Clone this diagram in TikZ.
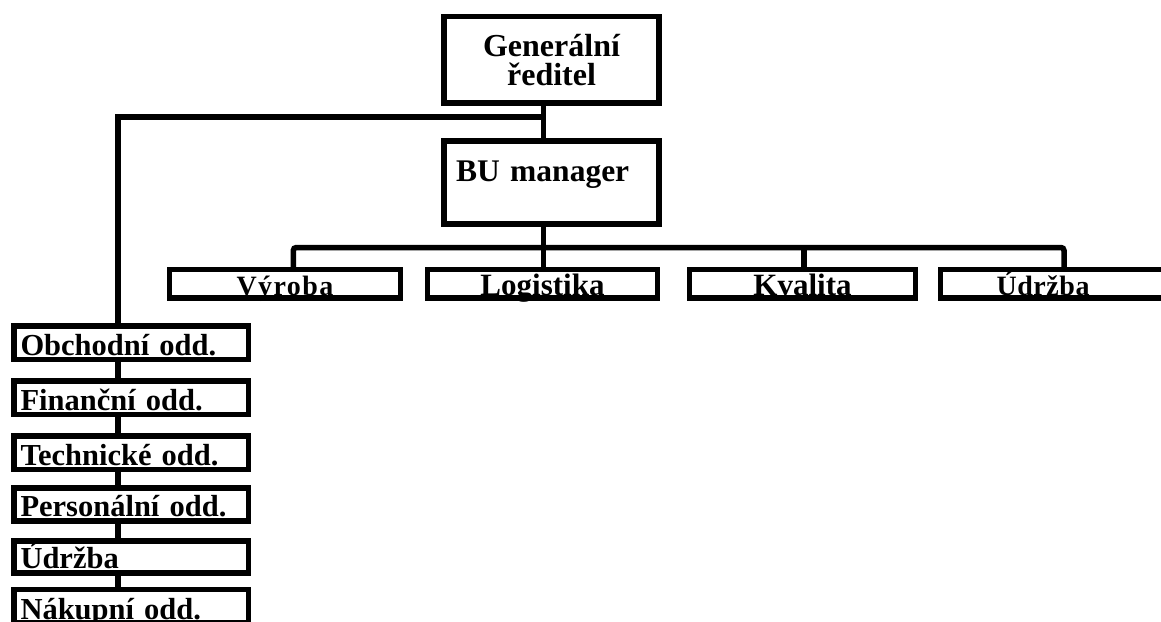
\documentclass[tikz,border=0pt]{standalone}
\usepackage{fontspec}
\setmainfont{Liberation Serif}
\begin{document}
\begin{tikzpicture}[x=1pt,y=1pt,
  box/.style={draw, line width=5.5pt, inner sep=0pt, font=\bfseries\fontsize{31}{28}\selectfont},
  cbox/.style={box, text height=25.5pt, text depth=3pt},
  spaced/.style={font=\bfseries\fontsize{28}{28}\selectfont\addfontfeatures{LetterSpace=#1}},
  lbox/.style={box, font=\bfseries\fontsize{30.5}{28}\selectfont, text width=221.5pt, align=left, inner xsep=6.5pt},
  link/.style={line width=5.5pt}]
\useasboundingbox (0,0) rectangle (1161,-621);
\clip (0,0) rectangle (1161,-621);
% top
\node[box, font=\bfseries\fontsize{32}{29}\selectfont, minimum width=215pt, minimum height=86.7pt, align=center] (gen) at (551.5,-59.65) {Generální\\ředitel};
\node[box, font=\bfseries\fontsize{31.5}{28}\selectfont, text width=191pt, align=left, inner xsep=12pt, text height=40.7pt, text depth=42.3pt] (bu) at (551.5,-182.5) {BU manager};
% children
\node[cbox, spaced=5, minimum width=231pt] (vyr) at (285,-283.75) {Výroba};
\node[cbox, minimum width=230pt] (log) at (542.5,-283.75) {Logistika};
\node[cbox, minimum width=226pt] (kva) at (802.5,-283.75) {Kvalita};
\node[cbox, spaced=2, text width=117.5pt, align=left, inner xsep=56pt] (udr2) at (1055.25,-283.75) {Údržba};
% left column
\node[lbox, text height=29pt, text depth=4.5pt] (obch) at (131.25,-342.75) {Obchodní odd.};
\node[lbox, text height=29pt, text depth=4.5pt] (fin) at (131.25,-397.75) {Finanční odd.};
\node[lbox, text height=29pt, text depth=4.5pt] (tech) at (131.25,-452.75) {Technické odd.};
\node[lbox, text height=28.5pt, text depth=4.5pt] (pers) at (131.25,-504.5) {Personální odd.};
\node[lbox, text height=27.5pt, text depth=4.5pt] (udr) at (131.25,-557) {Údržba};
\node[lbox, text height=29.5pt, text depth=4pt] (nak) at (131.25,-606.25) {Nákupní odd.};
% junctions
\coordinate (j1) at (543.5,-117);
\coordinate (lc) at (118,-117);
\coordinate (lx) at (118,0);
\coordinate (bl) at (293.3,-247.5);
\coordinate (br) at (1064,-247.5);
\coordinate (kx) at (804,-247.5);
% connectors
\draw[link] (gen.south -| j1) -- (bu.north -| j1);
\draw[link] (j1) -- (lc) -- (lc |- obch.north);
\draw[link] (bu.south -| j1) -- (log.north -| j1);
\draw[link, rounded corners=3pt] (vyr.north -| bl) -- (bl) -- (br) -- (udr2.north -| br);
\draw[link] (kx) -- (kva.north -| kx);
\draw[link] (lx |- obch.south) -- (lx |- fin.north);
\draw[link] (lx |- fin.south) -- (lx |- tech.north);
\draw[link] (lx |- tech.south) -- (lx |- pers.north);
\draw[link] (lx |- pers.south) -- (lx |- udr.north);
\draw[link] (lx |- udr.south) -- (lx |- nak.north);
\end{tikzpicture}
\end{document}
